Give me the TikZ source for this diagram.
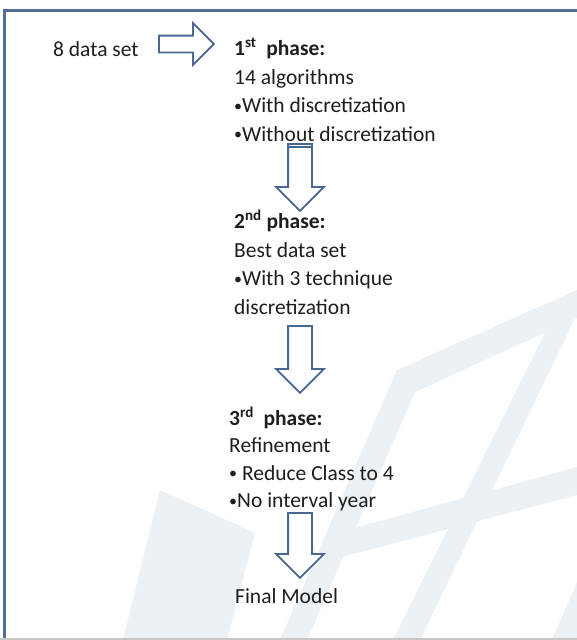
\documentclass[tikz,border=0pt]{standalone}
\usepackage{fontspec}
\setmainfont{Carlito}
\usepackage{tikz}
\usetikzlibrary{shapes,arrows,positioning}
\definecolor{frameblue}{RGB}{84,112,152}
\definecolor{arrowblue}{RGB}{72,102,146}
\definecolor{wmark}{RGB}{236,241,245}
\definecolor{ink}{RGB}{30,30,30}
\tikzstyle{phase} = [anchor=base west,align=left,inner sep=0,text=ink,font=\fontsize{21.5}{28.5}\selectfont]
\tikzstyle{blockarrow} = [draw=arrowblue,line width=1.8pt,fill=white,shape=single arrow,single arrow head indent=0,inner xsep=0,anchor=tail]
\tikzstyle{rarrow} = [blockarrow,inner ysep=7.5pt,single arrow head extend=12.5pt,minimum height=55pt]
\tikzstyle{darrow} = [blockarrow,rotate=-90,inner ysep=11pt,single arrow head extend=12pt]
\tikzstyle{frameline} = [frameblue,line width=3pt]
\newcommand{\blt}{\raisebox{1.2pt}{\fontsize{16}{16}\selectfont •}}

\begin{document}
\begin{tikzpicture}[x=1pt,y=-1pt]
  \useasboundingbox (0,0) rectangle (577,640);
  \fill[white] (0,0) rectangle (577,640);
  % watermark in the background
  \fill[wmark] (160,490) -- (255,533) -- (227,640) -- (123,640) -- cycle;
  \fill[wmark] (280,640) -- (397,370) -- (577,290) -- (577,318) -- (415,392) -- (307,640) -- cycle;
  \fill[wmark] (393,640) -- (548,327) -- (577,314) -- (420,640) -- cycle;
  \fill[wmark] (347,530) -- (577,467) -- (577,495) -- (342,557) -- cycle;
  \fill[wmark] (552,640) -- (577,582) -- (577,640) -- cycle;
  % frame
  \draw[frameline] (4.5,640) -- (4.5,10) -- (577,10);
  \draw[black!22,line width=1.5pt] (0,639.2) -- (577,639.2);

  \node[rarrow] (a0) at (158,44) {};
  \node[darrow,minimum height=67pt] (a1) at (300,143) {};
  \node[darrow,minimum height=67pt] (a2) at (300,325) {};
  \node[darrow,minimum height=65pt] (a3) at (300,512) {};

  % base of a block = baseline of its last line
  \node[phase] (data) at (53,56) {8 data set};
  \node[phase] (p1) at (234,141) {\textbf{1\textsuperscript{st}\ \ phase:}\\14 algorithms\\\blt With discretization\\\blt Without discretization};
  \node[phase] (p2) at (234,314) {\textbf{2\textsuperscript{nd} phase:}\\Best data set\\\blt With 3 technique\\discretization};
  \node[phase,font=\fontsize{21.5}{27.5}\selectfont] (p3) at (229,507.5) {\textbf{3\textsuperscript{rd}\ \ phase:}\\Refinement\\\blt\ Reduce Class to 4\\\blt No interval year};
  \node[phase] (final) at (235,603) {Final Model};
  \draw[arrowblue,line width=1.2pt] (289,147) -- (311,147);
\end{tikzpicture}
\end{document}
